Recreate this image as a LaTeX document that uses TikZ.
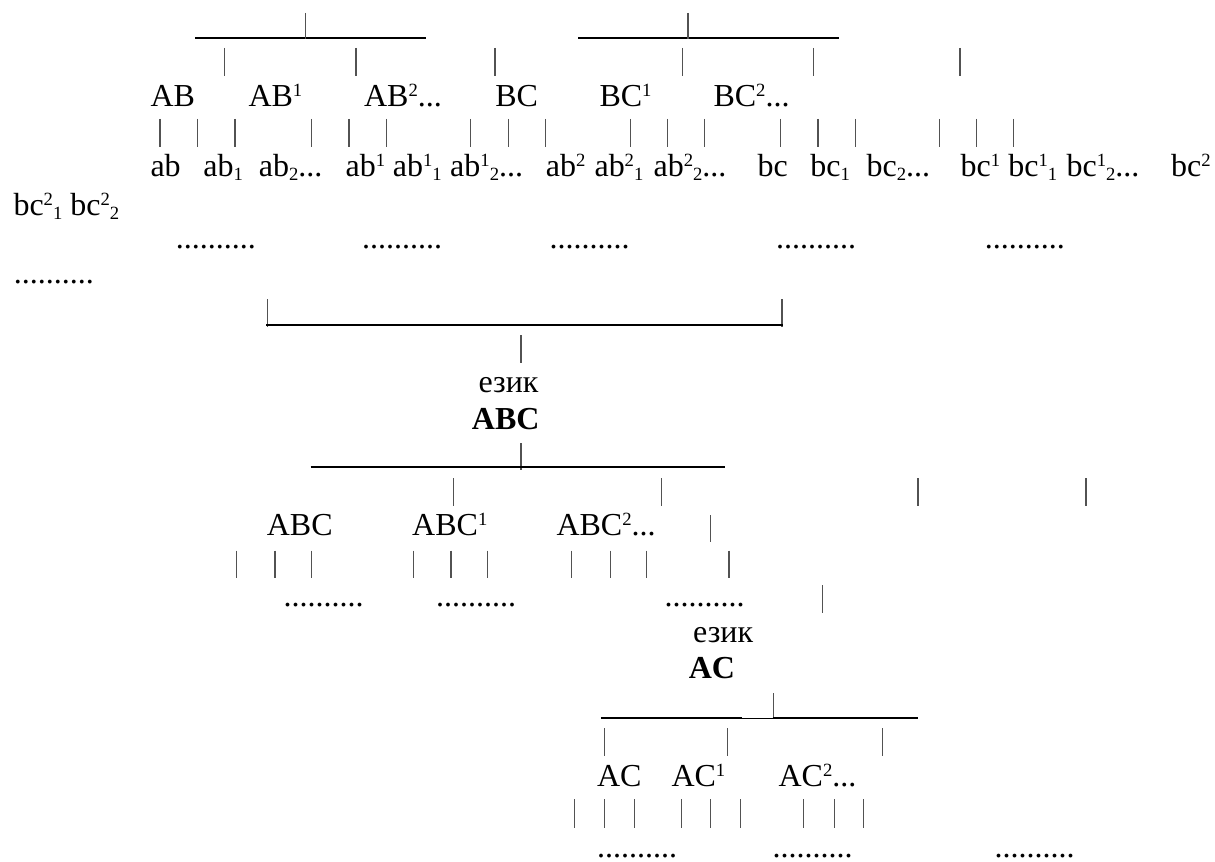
\documentclass[tikz,border=0pt]{standalone}
\usepackage{fontspec}
\setmainfont{Liberation Serif}
\newcommand\upidx[1]{\raisebox{0.32em}{\fontsize{7}{8}\selectfont #1}}
\newcommand\dnidx[1]{\raisebox{-0.11em}{\fontsize{7}{8}\selectfont #1}}
\begin{document}
\begin{tikzpicture}[x=0.375pt,y=-0.375pt,
  lbl/.style={anchor=base west, inner sep=0pt, font=\fontsize{12}{14}\selectfont},
  tick/.style={draw=black!68, line width=0.4pt},
  bar/.style={draw=black, line width=0.75pt},
  thinbar/.style={draw=black, line width=0.6pt}]
\useasboundingbox (0,0) rectangle (1215,862);

% ---------- top bars ----------
\coordinate (l1a) at (195,38); \coordinate (l1b) at (426,38);
\coordinate (l2a) at (578,38); \coordinate (l2b) at (839,38);
\draw[bar] (l1a) -- (l1b);
\draw[bar] (l2a) -- (l2b);
\draw[tick] (305.4,13) -- (305.4,39);
\draw[tick] (688,13) -- (688,39);

% row 2 ticks
\foreach \x in {224.6,356,495,682.4,813.7,960}
  \draw[tick] (\x,48) -- (\x,76);

% row 3 labels
\node[lbl] (AB)  at (150,106.5) {AB};
\node[lbl] (AB1) at (248,106.5) {AB\upidx{1}};
\node[lbl] (AB2) at (363.6,106.5) {AB\upidx{2}...};
\node[lbl] (BC)  at (494.8,106.5) {BC};
\node[lbl] (BC1) at (599,106.5) {BC\upidx{1}};
\node[lbl] (BC2) at (713,106.5) {BC\upidx{2}...};

% row 4 ticks
\foreach \x in {160,197.5,235,311.5,349,386.5,470.7,508.2,545.3,630.2,667.5,704.7,780.4,818,855.3,939.6,976.9,1013.7}
  \draw[tick] (\x,119) -- (\x,147);

% row 5 labels
\node[lbl] (ab)    at (150,176.5) {ab};
\node[lbl] (ab1)   at (202.8,176.5) {ab\dnidx{1}};
\node[lbl] (ab2)   at (258.3,176.5) {ab\dnidx{2}...};
\node[lbl] (abS1)  at (345.2,176.5) {ab\upidx{1}};
\node[lbl] (abS11) at (392.3,176.5) {ab\upidx{1}\dnidx{1}};
\node[lbl] (abS12) at (449.7,176.5) {ab\upidx{1}\dnidx{2}...};
\node[lbl] (abS2)  at (545.3,176.5) {ab\upidx{2}};
\node[lbl] (abS21) at (594,176.5) {ab\upidx{2}\dnidx{1}};
\node[lbl] (abS22) at (653,176.5) {ab\upidx{2}\dnidx{2}...};
\node[lbl] (bc)    at (757,176.5) {bc};
\node[lbl] (bc1)   at (809.8,176.5) {bc\dnidx{1}};
\node[lbl] (bc2)   at (866,176.5) {bc\dnidx{2}...};
\node[lbl] (bcS1)  at (960,176.5) {bc\upidx{1}};
\node[lbl] (bcS11) at (1007.8,176.5) {bc\upidx{1}\dnidx{1}};
\node[lbl] (bcS12) at (1066,176.5) {bc\upidx{1}\dnidx{2}...};
\node[lbl] (bcS2)  at (1170.6,176.5) {bc\upidx{2}};
\node[lbl] (bcS2x) at (13,216) {bc\upidx{2}\dnidx{1} bc\upidx{2}\dnidx{2}};

% dots rows
\node[lbl] (d1) at (175.3,248) {..........};
\node[lbl] (d2) at (361.7,248) {..........};
\node[lbl] (d3) at (549.2,248) {..........};
\node[lbl] (d4) at (775.7,248) {..........};
\node[lbl] (d5) at (984.3,248) {..........};
\node[lbl] (d6) at (13.4,284) {..........};

% ---------- bracket to ABC ----------
\coordinate (bra) at (266,325); \coordinate (brb) at (783,325);
\draw[tick] (267.8,299) -- (267.8,327);
\draw[tick] (782,299) -- (782,327);
\draw[bar] (bra) -- (brb);
\draw[tick] (521,335) -- (521,363);

\node[lbl] (ez1)  at (478,392) {език};
\node[lbl] (ABCb) at (471.4,429) {\bfseries ABC};

\draw[tick] (521,443) -- (521,470);
\coordinate (l3a) at (310.7,466.7); \coordinate (l3b) at (725,466.7);
\draw[bar] (l3a) -- (l3b);

\foreach \x in {453.6,661.7,918,1086}
  \draw[tick] (\x,478) -- (\x,506);

\node[lbl] (ABC)  at (266.3,535.5) {ABC};
\node[lbl] (ABC1) at (411.7,535.5) {ABC\upidx{1}};
\node[lbl] (ABC2) at (556,535.5) {ABC\upidx{2}...};
\draw[tick] (710.2,515) -- (710.2,542);

\foreach \x in {236.7,275,311.7,413.3,451,487.8,571.9,610.2,646.4,729}
  \draw[tick] (\x,550.7) -- (\x,577.7);

\node[lbl] (e1) at (283,606) {..........};
\node[lbl] (e2) at (435.7,606) {..........};
\node[lbl] (e3) at (664,606) {..........};
\draw[tick] (822.7,585) -- (822.7,612.7);

% ---------- AC ----------
\node[lbl] (ez2) at (692.7,642) {език};
\node[lbl] (ACb) at (688.3,678.5) {\bfseries AC};

\draw[tick] (773.4,693) -- (773.4,718);
\coordinate (l4a) at (600.8,718.3); \coordinate (l4b) at (741.8,718.3);
\coordinate (l4c) at (772.7,718.3); \coordinate (l4d) at (917.6,718.3);
\draw[bar] (l4a) -- (l4b);
\draw[thinbar] (l4b) -- (l4c);
\draw[bar] (l4c) -- (l4d);

\foreach \x in {604.3,727.8,882.1}
  \draw[tick] (\x,728) -- (\x,755.7);

\node[lbl] (AC)  at (596.6,786.5) {AC};
\node[lbl] (AC1) at (671,786.5) {AC\upidx{1}};
\node[lbl] (AC2) at (778,786.5) {AC\upidx{2}...};

\foreach \x in {574.5,604.7,634.1,681.5,710.3,740.4,803.6,834.1,863.2}
  \draw[tick] (\x,799) -- (\x,828);

\node[lbl] (f1) at (596.6,857) {..........};
\node[lbl] (f2) at (772,857) {..........};
\node[lbl] (f3) at (994,857) {..........};
\end{tikzpicture}
\end{document}
